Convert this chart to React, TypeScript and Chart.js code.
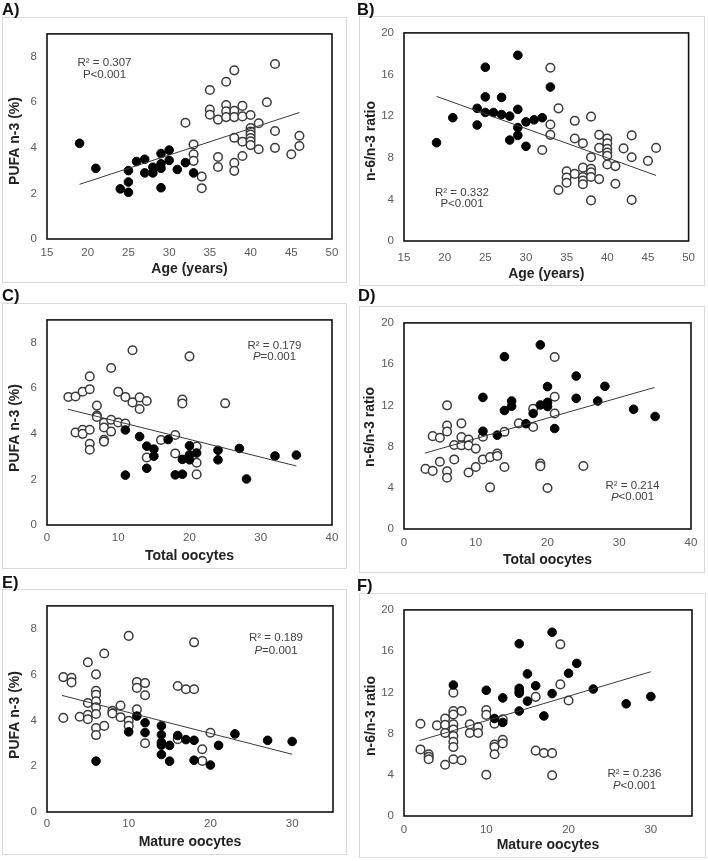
import React, { useEffect, useRef } from "react";
import { Chart, registerables } from "chart.js";
Chart.register(...registerables);

// ---------- DATA ----------
// Panel A: Age vs PUFA n-3 (%)
const aFilled = [[19,4.2],[21,3.1],[24,2.2],[25,3.0],[25,2.5],[25,2.05],[26,3.4],[27,3.5],[27,2.9],[28,3.15],[28,2.9],[29,3.75],[29,3.3],[29,3.1],[29,2.25],[30,3.9],[30,3.45],[31,3.05],[32,3.35],[33,2.9]];
const aOpen = [[32,5.1],[33,4.15],[33,3.72],[33,3.43],[34,2.74],[34,2.23],[35,6.54],[35,5.68],[35,5.45],[36,5.24],[36,3.6],[36,3.16],[37,6.9],[37,5.88],[37,5.6],[37,5.35],[38,7.4],[38,5.63],[38,5.35],[38,4.44],[38,3.34],[38,2.99],[39,5.84],[39,5.38],[39,4.27],[39,3.64],[40,5.44],[40,4.87],[40,4.72],[40,4.58],[40,4.43],[40,4.29],[40,4.12],[41,5.08],[41,3.94],[42,6.0],[43,7.68],[43,4.74],[43,4.0],[45,3.72],[46,4.53],[46,4.08]];
const aTrend = [[19,2.4],[46,5.55]];

// Panel B: Age vs n-6/n-3 ratio
const bFilled = [[19,9.45],[21,11.85],[24,12.75],[24,11.15],[25,16.7],[25,13.85],[25,12.35],[26,12.35],[27,13.8],[27,12.15],[28,12.0],[28,9.7],[29,17.85],[29,12.65],[29,10.9],[29,10.15],[30,11.45],[30,9.1],[31,11.65],[32,11.85],[33,14.8]];
const bOpen = [[32,8.75],[33,16.65],[33,11.2],[33,10.2],[34,12.75],[34,4.9],[35,6.7],[35,6.1],[35,5.6],[36,11.55],[36,9.85],[36,6.45],[37,9.4],[37,7.05],[37,6.15],[37,5.8],[37,5.45],[38,11.95],[38,8.05],[38,6.95],[38,6.6],[38,6.15],[38,3.9],[39,10.2],[39,8.95],[39,5.95],[40,9.85],[40,9.4],[40,8.85],[40,8.5],[40,8.2],[40,7.35],[41,7.2],[41,5.5],[42,8.9],[43,10.15],[43,8.05],[43,3.95],[45,7.7],[46,8.95]];
const bTrend = [[19,13.9],[46,6.3]];

// Panel C: Total oocytes vs PUFA n-3 (%)
const cFilled = [[11,4.17],[11,2.19],[13,3.88],[14,3.46],[14,2.49],[15,3.33],[15,3.02],[17,3.75],[18,2.2],[19,2.88],[19,2.23],[20,3.48],[20,3.08],[20,2.86],[21,3.16],[24,3.28],[24,2.86],[27,3.36],[28,2.02],[32,3.03],[35,3.07]];
const cOpen = [[3,5.62],[4,5.64],[4,4.06],[5,5.85],[5,4.18],[5,4.0],[6,6.52],[6,5.96],[6,4.18],[6,3.56],[6,3.3],[7,5.24],[7,4.8],[7,4.74],[8,4.48],[8,4.28],[8,3.74],[8,3.66],[9,6.89],[9,4.62],[9,4.1],[10,5.85],[10,4.5],[11,5.62],[11,4.45],[12,7.67],[12,5.38],[13,5.6],[13,5.09],[14,5.44],[14,2.96],[16,3.73],[18,3.95],[18,3.14],[19,5.5],[19,5.33],[20,7.4],[21,3.44],[21,2.73],[21,2.22],[25,5.34]];
const cTrend = [[2.94,5.08],[35,2.59]];

// Panel D: Total oocytes vs n-6/n-3 ratio
const dFilled = [[11,12.77],[11,9.49],[13,9.11],[14,16.72],[14,11.5],[15,12.42],[15,11.91],[17,10.22],[18,11.21],[19,17.87],[19,12.04],[20,13.82],[20,12.29],[20,11.88],[21,9.75],[24,14.84],[24,12.68],[27,12.42],[28,13.85],[32,11.62],[35,10.92]];
const dOpen = [[3,5.83],[4,9.01],[4,5.64],[5,8.85],[5,6.53],[6,12.0],[6,10.03],[6,9.46],[6,5.6],[6,4.97],[7,8.15],[7,6.75],[8,10.25],[8,8.92],[8,8.12],[9,8.69],[9,8.1],[9,5.48],[10,7.8],[10,6.02],[11,8.95],[11,6.75],[12,6.97],[12,4.04],[13,7.32],[13,7.08],[14,9.43],[14,6.02],[16,10.25],[18,11.66],[18,9.9],[19,6.34],[19,6.1],[20,3.98],[21,16.69],[21,12.83],[21,11.21],[25,6.11]];
const dTrend = [[2.9,7.36],[34.9,13.73]];

// Panel E: Mature oocytes vs PUFA n-3 (%)
const eFilled = [[6,2.22],[10,3.5],[11,4.19],[12,3.9],[12,3.47],[14,3.76],[14,3.37],[14,3.04],[14,2.92],[14,2.51],[15,2.91],[15,2.22],[16,3.34],[17,3.16],[18,3.13],[18,2.26],[20,2.05],[21,2.91],[23,3.41],[27,3.13],[30,3.08]];
const eOpen = [[2,5.89],[2,4.11],[3,5.86],[3,5.66],[4,4.16],[5,6.54],[5,4.76],[5,4.24],[5,4.05],[6,6.01],[6,5.29],[6,5.12],[6,4.83],[6,4.57],[6,4.28],[6,3.67],[6,3.36],[7,6.92],[7,3.76],[8,4.42],[8,4.3],[9,4.65],[9,4.14],[10,7.69],[10,3.98],[10,3.76],[11,5.68],[11,5.42],[11,4.48],[12,5.63],[12,5.1],[12,3.0],[16,5.5],[16,3.18],[17,5.36],[18,7.41],[18,5.36],[19,2.74],[19,2.23],[20,3.46]];
const eTrend = [[1.84,5.09],[30,2.52]];

// Panel F: Mature oocytes vs n-6/n-3 ratio
const fFilled = [[6,12.71],[10,12.2],[11,9.46],[12,11.46],[12,9.08],[14,16.72],[14,12.39],[14,12.1],[14,11.91],[14,10.19],[15,13.79],[15,11.15],[16,12.64],[17,9.71],[18,17.83],[18,11.88],[20,13.85],[21,14.81],[23,12.32],[27,10.89],[30,11.59]];
const fOpen = [[2,8.95],[2,6.46],[3,5.99],[3,5.75],[3,5.51],[4,8.79],[5,9.46],[5,8.85],[5,8.06],[5,4.97],[6,11.97],[6,10.19],[6,9.85],[6,8.89],[6,8.4],[6,7.77],[6,7.2],[6,6.69],[6,5.51],[7,10.19],[7,5.41],[8,8.89],[8,8.06],[9,8.63],[9,8.06],[10,10.29],[10,9.81],[10,4.01],[11,8.95],[11,6.94],[11,6.7],[11,5.99],[12,9.39],[12,7.39],[12,7.04],[16,11.56],[16,6.34],[17,6.11],[18,6.1],[18,3.95],[19,16.66],[19,12.77],[20,11.21]];
const fTrend = [[1.88,7.32],[30,14.0]];

// Axis ranges [min, max, tick step]
const ageRange = [15, 50, 5];
const totalRange = [0, 40, 10];
const matureRange = [0, 35, 10];
const pufaRange = [0, 9, 2];
const ratioRange = [0, 20, 4];
const panelLetters = ["A)", "B)", "C)", "D)", "E)", "F)"];
const xTitles = ["Age (years)", "Age (years)", "Total oocytes", "Total oocytes", "Mature oocytes", "Mature oocytes"];
const yTitles = ["PUFA n-3 (%)", "n-6/n-3 ratio", "PUFA n-3 (%)", "n-6/n-3 ratio", "PUFA n-3 (%)", "n-6/n-3 ratio"];
const r2Texts = ["R² = 0.307", "R² = 0.332", "R² = 0.179", "R² = 0.214", "R² = 0.189", "R² = 0.236"];
const pTexts = ["<0.001", "<0.001", "=0.001", "<0.001", "=0.001", "<0.001"];
const pItalic = [false, false, true, true, true, true];

// ---------- LAYOUT (page pixels) ----------
type Panel = {
  filled: number[][]; open: number[][]; trend: number[][];
  xr: number[]; yr: number[];
  frame: number[]; plot: number[];
  yTitle: number[]; xTitleY: number; xTickPad: number;
  ann: number[]; label: number[];
};

const PANELS: Panel[] = [
  { filled: aFilled, open: aOpen, trend: aTrend, xr: ageRange, yr: pufaRange,
    frame: [2, 17, 346, 282], plot: [47, 32, 332, 239], yTitle: [15, 141], xTitleY: 269, xTickPad: 6.5,
    ann: [104.5, 62.7, 75.3], label: [2, 15] },
  { filled: bFilled, open: bOpen, trend: bTrend, xr: ageRange, yr: ratioRange,
    frame: [359, 16, 704, 285], plot: [404, 32, 690, 241], yTitle: [371, 141], xTitleY: 274, xTickPad: 10,
    ann: [462, 192.7, 204], label: [357, 15] },
  { filled: cFilled, open: cOpen, trend: cTrend, xr: totalRange, yr: pufaRange,
    frame: [2, 303, 346, 568], plot: [47, 318, 332, 525], yTitle: [15, 428], xTitleY: 556, xTickPad: 6,
    ann: [274.5, 345.7, 356.7], label: [2, 301.5] },
  { filled: dFilled, open: dOpen, trend: dTrend, xr: totalRange, yr: ratioRange,
    frame: [359, 306, 704, 572], plot: [404, 319, 691, 529], yTitle: [370, 427], xTitleY: 560, xTickPad: 6.5,
    ann: [632.5, 486.3, 497.3], label: [358, 301.7] },
  { filled: eFilled, open: eOpen, trend: eTrend, xr: matureRange, yr: pufaRange,
    frame: [2, 589, 346, 854], plot: [47, 603, 333, 812], yTitle: [15, 715], xTitleY: 841.7, xTickPad: 5,
    ann: [276, 638.3, 651], label: [2, 588.3] },
  { filled: fFilled, open: fOpen, trend: fTrend, xr: matureRange, yr: ratioRange,
    frame: [359, 593, 705, 857], plot: [404, 607, 692, 816], yTitle: [371, 716], xTitleY: 845, xTickPad: 6.5,
    ann: [634.5, 774.3, 786], label: [357, 591.7] },
];

const FONT = "'Liberation Sans', Arial, Helvetica, sans-serif";
const TICK_SIZE = 11.5;
const TITLE_SIZE = 14;

function toXY(arr: number[][]) {
  return arr.map((p) => ({ x: p[0], y: p[1] }));
}

function makeConfig(p: Panel, i: number): any {
  const W = p.frame[2] - p.frame[0] + 1;
  const H = p.frame[3] - p.frame[1] + 1;
  const pl = p.plot[0] - p.frame[0];
  const pt = p.plot[1] - p.frame[1];
  const pr = p.plot[2] - p.frame[0];
  const pb = p.plot[3] - p.frame[1];
  const lh = TITLE_SIZE * 1.2;
  const xTitleLocal = p.xTitleY - p.frame[1];

  const decor = {
    id: "decor" + i,
    beforeDraw(chart: any) {
      const ctx = chart.ctx;
      ctx.save();
      ctx.fillStyle = "#ffffff";
      ctx.fillRect(0, 0, W, H);
      ctx.strokeStyle = "#d9d9d9";
      ctx.lineWidth = 1;
      ctx.strokeRect(0.5, 0.5, W - 1, H - 1);
      ctx.restore();
    },
    beforeDatasetsDraw(chart: any) {
      const ctx = chart.ctx;
      const a = chart.chartArea;
      ctx.save();
      ctx.strokeStyle = "#111111";
      ctx.lineWidth = 1.6;
      ctx.strokeRect(a.left, a.top, a.right - a.left, a.bottom - a.top);
      // y-axis title
      ctx.save();
      ctx.translate(p.yTitle[0] - p.frame[0], p.yTitle[1] - p.frame[1]);
      ctx.rotate(-Math.PI / 2);
      ctx.fillStyle = "#222222";
      ctx.font = `bold ${TITLE_SIZE}px ${FONT}`;
      ctx.textAlign = "center";
      ctx.textBaseline = "middle";
      ctx.fillText(yTitles[i], 0, 0);
      ctx.restore();
      // R² / P annotation
      const cx = p.ann[0] - p.frame[0];
      const y1 = p.ann[1] - p.frame[1];
      const y2 = p.ann[2] - p.frame[1];
      const normal = `11.5px ${FONT}`;
      const pf = pItalic[i] ? `italic 11.5px ${FONT}` : normal;
      ctx.fillStyle = "#404040";
      ctx.textBaseline = "middle";
      ctx.textAlign = "center";
      ctx.font = normal;
      ctx.fillText(r2Texts[i], cx, y1);
      ctx.font = pf;
      const wP = ctx.measureText("P").width;
      ctx.font = normal;
      const wR = ctx.measureText(pTexts[i]).width;
      const start = cx - (wP + wR) / 2;
      ctx.textAlign = "left";
      ctx.font = pf;
      ctx.fillText("P", start, y2);
      ctx.font = normal;
      ctx.fillText(pTexts[i], start + wP, y2);
      ctx.restore();
    },
  };

  const tickFont = { family: FONT, size: TICK_SIZE };
  const titleFont = { family: FONT, size: TITLE_SIZE, weight: "bold" as const };
  const keepSteps = (step: number, min: number) => (s: any) => {
    s.ticks = s.ticks.filter((t: any) => Math.abs(((t.value - min) / step) - Math.round((t.value - min) / step)) < 1e-6);
  };

  return {
    type: "scatter",
    data: {
      datasets: [
        {
          type: "line",
          data: toXY(p.trend),
          borderColor: "#3a3a3a",
          borderWidth: 1,
          pointRadius: 0,
          fill: false,
          tension: 0,
        },
        {
          data: toXY(p.filled),
          backgroundColor: "#000000",
          borderColor: "#000000",
          borderWidth: 1,
          pointRadius: 4.3,
        },
        {
          data: toXY(p.open),
          backgroundColor: "#ffffff",
          borderColor: "#3a3a3a",
          borderWidth: 1.5,
          pointRadius: 4.3,
        },
      ],
    },
    options: {
      responsive: false,
      animation: false,
      devicePixelRatio: 1,
      layout: { padding: { left: 0, top: pt, right: W - pr, bottom: 0 } },
      plugins: { legend: { display: false }, tooltip: { enabled: false } },
      events: [],
      scales: {
        x: {
          type: "linear",
          min: p.xr[0],
          max: p.xr[1],
          bounds: "data",
          grid: { display: false, drawTicks: false, tickLength: 0 },
          border: { display: false },
          ticks: { stepSize: p.xr[2], includeBounds: false, padding: p.xTickPad, color: "#595959", font: tickFont, maxRotation: 0, autoSkip: false },
          afterBuildTicks: keepSteps(p.xr[2], p.xr[0]),
          title: {
            display: true,
            text: xTitles[i],
            color: "#222222",
            font: titleFont,
            padding: { top: 0, bottom: H - xTitleLocal - lh / 2 },
          },
          afterFit: (s: any) => { s.height = H - pb; },
        },
        y: {
          type: "linear",
          min: p.yr[0],
          max: p.yr[1],
          bounds: "data",
          grid: { display: false, drawTicks: false, tickLength: 0 },
          border: { display: false },
          ticks: { stepSize: p.yr[2], includeBounds: false, padding: 10, color: "#595959", font: tickFont, autoSkip: false },
          afterBuildTicks: keepSteps(p.yr[2], p.yr[0]),
          title: { display: false },
          afterFit: (s: any) => { s.width = pl; },
        },
      },
    },
    plugins: [decor],
  };
}

function PanelChart({ p, i }: { p: Panel; i: number }) {
  const ref = useRef<HTMLCanvasElement | null>(null);
  useEffect(() => {
    if (!ref.current) return;
    const chart = new Chart(ref.current, makeConfig(p, i));
    return () => chart.destroy();
  }, [p, i]);
  const W = p.frame[2] - p.frame[0] + 1;
  const H = p.frame[3] - p.frame[1] + 1;
  return (
    <>
      <canvas
        ref={ref}
        width={W}
        height={H}
        style={{ position: "absolute", left: p.frame[0], top: p.frame[1], width: W, height: H }}
      />
      <div
        style={{
          position: "absolute",
          left: p.label[0],
          top: p.label[1] - 14.4,
          fontFamily: FONT,
          fontWeight: "bold",
          fontSize: 16.5,
          lineHeight: "17px",
          color: "#111",
          whiteSpace: "nowrap",
        }}
      >
        {panelLetters[i]}
      </div>
    </>
  );
}

export default function App() {
  return (
    <div style={{ position: "absolute", left: 0, top: 0, width: 708, height: 861, background: "#fff", overflow: "hidden" }}>
      {PANELS.map((p, i) => (
        <PanelChart key={i} p={p} i={i} />
      ))}
    </div>
  );
}
